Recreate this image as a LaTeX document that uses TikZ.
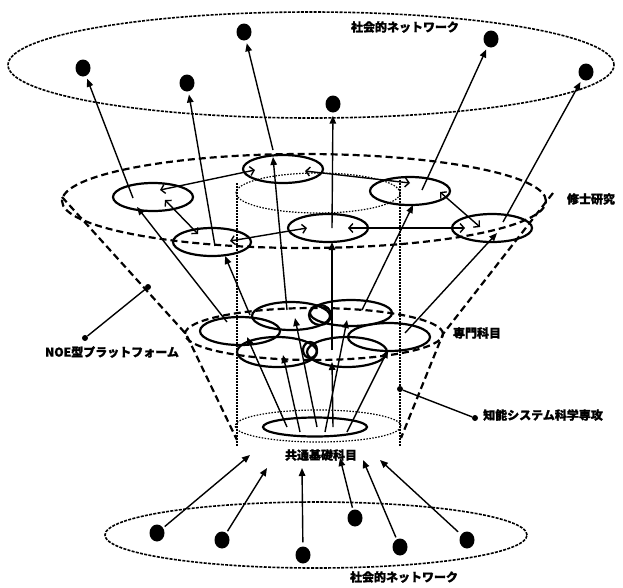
\documentclass[tikz,border=0pt]{standalone}
\usepackage{fontspec}
\newfontfamily\jp{Noto Sans CJK JP}[BoldFeatures={FakeBold=1.2}]
\usetikzlibrary{arrows.meta,shapes.geometric}
\begin{document}
\begin{tikzpicture}[x=1pt,y=-1pt,
  lbl/.style={font=\jp\bfseries\fontsize{12}{12}\selectfont, inner sep=0},
  dot/.style={ellipse, fill=black, inner sep=0, minimum width=15pt, minimum height=17pt},
  sdot/.style={circle, fill=black, inner sep=0, minimum size=6pt},
  sol/.style={ellipse, draw, line width=2.2pt, inner sep=0},
  netell/.style={ellipse, draw, line width=1.6pt, dash pattern=on 3pt off 1.3pt, inner sep=0},
  funnel/.style={line width=2.2pt, dash pattern=on 7pt off 4pt},
  cyl/.style={line width=1.2pt, dash pattern=on 1.5pt off 1.5pt},
  arr/.style={line width=1.4pt, -{Triangle[length=8pt,width=6.5pt]}},
  ring/.style={line width=1.4pt, {Straight Barb[length=4pt,width=9pt]}-{Straight Barb[length=4pt,width=9pt]}},
  lead/.style={line width=1.4pt}
]
\useasboundingbox (0,0) rectangle (623,587);

% ---------- top social network ----------
\node[netell, minimum width=606pt, minimum height=106pt] (topnet) at (311,65) {};
\node[lbl] (toplbl) at (405,27) {社会的ネットワーク};
\node[dot] (t1) at (83,68) {};
\node[dot] (t2) at (187,83) {};
\node[dot] (t3) at (244,32) {};
\node[dot] (t4) at (333,104) {};
\node[dot] (t5) at (491,39) {};
\node[dot] (t6) at (586,72) {};

% ---------- funnel (NOE platform) ----------
\node[ellipse, draw, funnel, inner sep=0, minimum width=484pt, minimum height=94pt] (msell) at (304,201) {};
\node[lbl] (mslbl) at (591,199) {修士研究};
\node[ellipse, draw, funnel, inner sep=0, minimum width=258pt, minimum height=52pt] (spell) at (314,334) {};
\node[lbl] (splbl) at (477,333) {専門科目};
\coordinate (fl1) at (62,197);
\coordinate (fl2) at (186,334);
\coordinate (fl3) at (237,440);
\coordinate (fr1) at (553,193);
\coordinate (fr2) at (443,334);
\coordinate (fr3) at (401,438);
\draw[funnel] (fl1) -- (fl2) -- (fl3);
\draw[funnel] (fr1) -- (fr2) -- (fr3);

% ---------- cylinder ----------
\node[ellipse, draw, cyl, inner sep=0, minimum width=164pt, minimum height=40pt] (cyltop) at (318,193) {};
\node[ellipse, draw, cyl, inner sep=0, minimum width=166pt, minimum height=32pt] (cylbot) at (318,426) {};
\coordinate (cl1) at (237,183);
\coordinate (cl2) at (237,447);
\coordinate (cr1) at (400,180);
\coordinate (cr2) at (400,447);
\draw[cyl] (cl1) -- (cl2);
\draw[cyl] (cr1) -- (cr2);

% ---------- master research ellipses ----------
\node[sol, minimum width=80pt, minimum height=28pt] (E1) at (283,169) {};
\node[sol, minimum width=80pt, minimum height=28pt] (E2) at (153,197) {};
\node[sol, minimum width=78pt, minimum height=28pt] (E3) at (212,242) {};
\node[sol, minimum width=80pt, minimum height=28pt] (E4) at (328,228) {};
\node[sol, minimum width=80pt, minimum height=28pt] (E5) at (410,191) {};
\node[sol, minimum width=80pt, minimum height=28pt] (E6) at (492,228) {};

\coordinate (r12a) at (160,190); \coordinate (r12b) at (255,170);
\coordinate (r15a) at (305,171); \coordinate (r15b) at (410,183);
\coordinate (r23a) at (165,200); \coordinate (r23b) at (198,234);
\coordinate (r34a) at (230,241); \coordinate (r34b) at (307,228);
\coordinate (r46a) at (348,228); \coordinate (r46b) at (465,228);
\coordinate (r56a) at (440,192); \coordinate (r56b) at (480,227);
\draw[ring] (r12a) -- (r12b);
\draw[ring] (r15a) -- (r15b);
\draw[ring] (r23a) -- (r23b);
\draw[ring] (r34a) -- (r34b);
\draw[ring] (r46a) -- (r46b);
\draw[ring] (r56a) -- (r56b);

% E -> top dots
\coordinate (u1) at (133,198);
\coordinate (u2) at (215,246);
\coordinate (u3) at (273,150);
\coordinate (u4) at (332,228);
\coordinate (u5) at (422,190);
\coordinate (u6) at (503,222);
\draw[arr, shorten >=3pt] (u1) -- (t1);
\draw[arr, shorten >=3pt] (u2) -- (t2);
\draw[arr, shorten >=3pt] (u3) -- (t3);
\draw[arr, shorten >=3pt] (u4) -- (t4);
\draw[arr, shorten >=3pt] (u5) -- (t5);
\draw[arr, shorten >=3pt] (u6) -- (t6);

% ---------- specialised subjects ----------
\node[sol, minimum width=80pt, minimum height=28pt] (M1) at (240,331) {};
\node[sol, minimum width=78pt, minimum height=28pt] (M2) at (291,316) {};
\node[sol, minimum width=82pt, minimum height=26pt] (M3) at (351,313) {};
\node[sol, minimum width=82pt, minimum height=28pt] (M4) at (389,337) {};
\node[sol, minimum width=80pt, minimum height=30pt] (M5) at (277,352) {};
\node[sol, minimum width=80pt, minimum height=30pt] (M6) at (347,352) {};
\node[sol, minimum width=22pt, minimum height=20pt] (s1) at (320,315) {};
\node[sol, minimum width=14pt, minimum height=16pt] (s2) at (310,350) {};

% M -> E
\coordinate (m1s) at (227,322); \coordinate (m1e) at (137,207);
\coordinate (m2s) at (250,315); \coordinate (m2e) at (225,256);
\coordinate (m3s) at (287,310); \coordinate (m3e) at (273,157);
\coordinate (m4s) at (332,350); \coordinate (m4e) at (332,242);
\coordinate (m5s) at (362,310); \coordinate (m5e) at (413,205);
\coordinate (m6s) at (405,333); \coordinate (m6e) at (497,233);
\draw[arr] (m1s) -- (m1e);
\draw[arr] (m2s) -- (m2e);
\draw[arr] (m3s) -- (m3e);
\draw[arr] (m4s) -- (m4e);
\draw[arr] (m5s) -- (m5e);
\draw[arr] (m6s) -- (m6e);

% ---------- common basic subjects ----------
\node[sol, minimum width=104pt, minimum height=19pt] (cb) at (315,427) {};
\node[lbl] (cblbl) at (321,455) {共通基礎科目};

\coordinate (b1s) at (287,427); \coordinate (b1e) at (247,337);
\coordinate (b2s) at (300,432); \coordinate (b2e) at (283,355);
\coordinate (b3s) at (317,427); \coordinate (b3e) at (295,318);
\coordinate (b4s) at (325,432); \coordinate (b4e) at (347,320);
\coordinate (b5s) at (333,427); \coordinate (b5e) at (332,362);
\coordinate (b6s) at (347,432); \coordinate (b6e) at (388,350);
\draw[arr] (b1s) -- (b1e);
\draw[arr] (b2s) -- (b2e);
\draw[arr] (b3s) -- (b3e);
\draw[arr] (b4s) -- (b4e);
\draw[arr] (b5s) -- (b5e);
\draw[arr] (b6s) -- (b6e);

% ---------- bottom social network ----------
\node[netell, minimum width=422pt, minimum height=66pt] (botnet) at (316,535) {};
\node[lbl] (botlbl) at (404,577) {社会的ネットワーク};
\node[dot] (d1) at (157,533) {};
\node[dot] (d2) at (222,540) {};
\node[dot] (d3) at (303,555) {};
\node[dot] (d4) at (355,518) {};
\node[dot] (d5) at (400,547) {};
\node[dot] (d6) at (467,540) {};
\coordinate (g1) at (250,455);
\coordinate (g2) at (267,468);
\coordinate (g3) at (302,468);
\coordinate (g4) at (340,458);
\coordinate (g5) at (363,460);
\coordinate (g6) at (380,460);
\draw[arr, shorten <=2pt] (d1) -- (g1);
\draw[arr, shorten <=2pt] (d2) -- (g2);
\draw[arr, shorten <=4pt] (d3) -- (g3);
\draw[arr, shorten <=2pt] (d4) -- (g4);
\draw[arr, shorten <=2pt] (d5) -- (g5);
\draw[arr, shorten <=4pt] (d6) -- (g6);

% ---------- annotations ----------
\node[lbl] (noe) at (112,352) {NOE型プラットフォーム};
\node[sdot] (noea) at (85,338) {};
\node[sdot] (noeb) at (148,287) {};
\draw[lead] (noea) -- (noeb);
\node[lbl, anchor=west] (chino) at (483,415) {知能システム科学専攻};
\node[sdot] (chia) at (475,418) {};
\node[sdot] (chib) at (400,389) {};
\draw[lead] (chia) -- (chib);
\end{tikzpicture}
\end{document}
